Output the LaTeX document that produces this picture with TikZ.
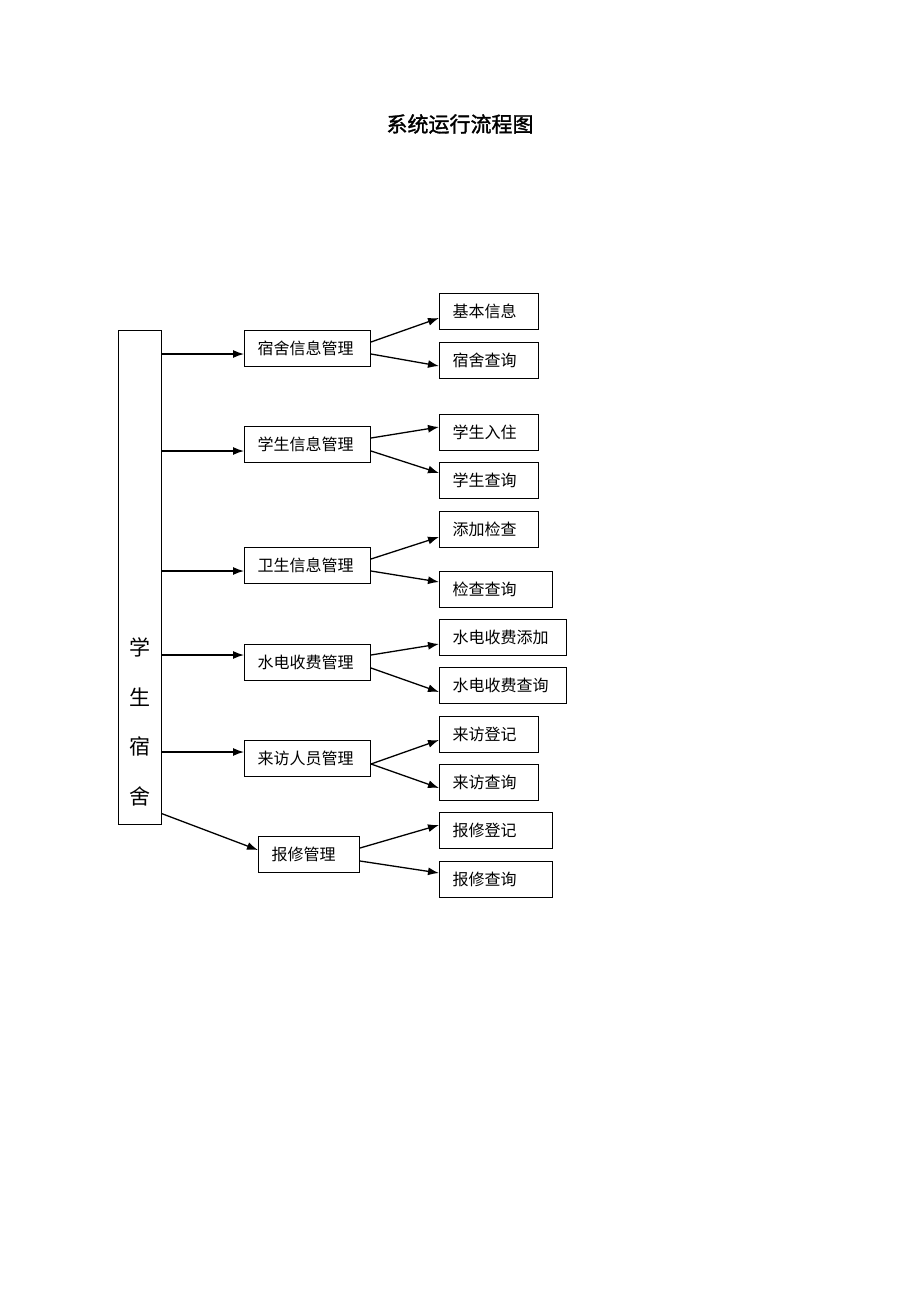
\documentclass[tikz,border=0pt]{standalone}
\usepackage{fontspec}
\usetikzlibrary{arrows.meta}
\newfontfamily\songFont{Noto Sans CJK SC}
\newfontfamily\heiFont{Noto Sans CJK SC}[FakeBold = 1.5]
\tikzstyle{diagram} = [x = 1pt, y = -1pt]
\tikzstyle{boxStyle} = [draw, line width = 1pt, anchor = west, minimum height = 36pt, inner xsep = 13pt, align = left, font = \songFont\fontsize{16}{16}\selectfont]
\tikzstyle{arrowStyle} = [line width = 1.3pt, -{Latex[length = 11pt, width = 8pt]}]
\newcommand{\menuBox}[5]{\node [boxStyle, text width = #4 pt] (#1) at (#2, #3) {#5};}
\newcommand{\branchLink}[4]{\draw [arrowStyle] ([yshift = #2 pt]#1.east) -- ([yshift = #4 pt]#3.west);}
\newcommand{\trunkLink}[2]{
  \coordinate (#1In) at ([yshift = #2 pt]#1.west);
  \draw [arrowStyle] (dorm.east |- #1In) -- (#1In);
}
\begin{document}
\begin{tikzpicture}[diagram]
            \useasboundingbox (0, 0) rectangle (920, 1302);
            \node [font = \heiFont\fontsize{21}{21}\selectfont] (title) at (460, 124) {系统运行流程图};

            \node [draw, line width = 1pt, minimum width = 43pt, minimum height = 494pt, inner sep = 0pt] (dorm) at (139.5, 577) {};
            \node [align = center, font = \songFont\fontsize{21}{49.5}\selectfont] (dormText) at (140, 722) {学\\生\\宿\\舍};

            \menuBox{m1}{244}{348}{100}{宿舍信息管理}
            \menuBox{m2}{244}{444}{100}{学生信息管理}
            \menuBox{m3}{244}{565}{100}{卫生信息管理}
            \menuBox{m4}{244}{662}{100}{水电收费管理}
            \menuBox{m5}{244}{758}{100}{来访人员管理}
            \menuBox{m6}{258}{854.5}{75}{报修管理}

            \menuBox{s1}{439}{311.5}{73}{基本信息}
            \menuBox{s2}{439}{360}{73}{宿舍查询}
            \menuBox{s3}{439}{432.5}{73}{学生入住}
            \menuBox{s4}{439}{480}{73}{学生查询}
            \menuBox{s5}{439}{529}{73}{添加检查}
            \menuBox{s6}{439}{589}{87}{检查查询}
            \menuBox{s7}{439}{637.5}{101}{水电收费添加}
            \menuBox{s8}{439}{685.5}{101}{水电收费查询}
            \menuBox{s9}{439}{734}{73}{来访登记}
            \menuBox{s10}{439}{782}{73}{来访查询}
            \menuBox{s11}{439}{830}{87}{报修登记}
            \menuBox{s12}{439}{879}{87}{报修查询}

            \trunkLink{m1}{-6}
            \trunkLink{m2}{-7}
            \trunkLink{m3}{-6}
            \trunkLink{m4}{7}
            \trunkLink{m5}{6}
            \draw [arrowStyle] ([yshift = 11pt]dorm.south east) -- ([yshift = 4.5pt]m6.west);

            \branchLink{m1}{6}{s1}{-6.5}
            \branchLink{m1}{-6}{s2}{-6}
            \branchLink{m2}{6}{s3}{5.5}
            \branchLink{m2}{-7}{s4}{7}
            \branchLink{m3}{6}{s5}{-8}
            \branchLink{m3}{-6}{s6}{7}
            \branchLink{m4}{7}{s7}{-6.5}
            \branchLink{m4}{-6}{s8}{-6.5}
            \branchLink{m5}{-6}{s9}{-6}
            \branchLink{m5}{-6}{s10}{-6}
            \branchLink{m6}{6.5}{s11}{5}
            \branchLink{m6}{-6.5}{s12}{6}
          \end{tikzpicture}
\end{document}
